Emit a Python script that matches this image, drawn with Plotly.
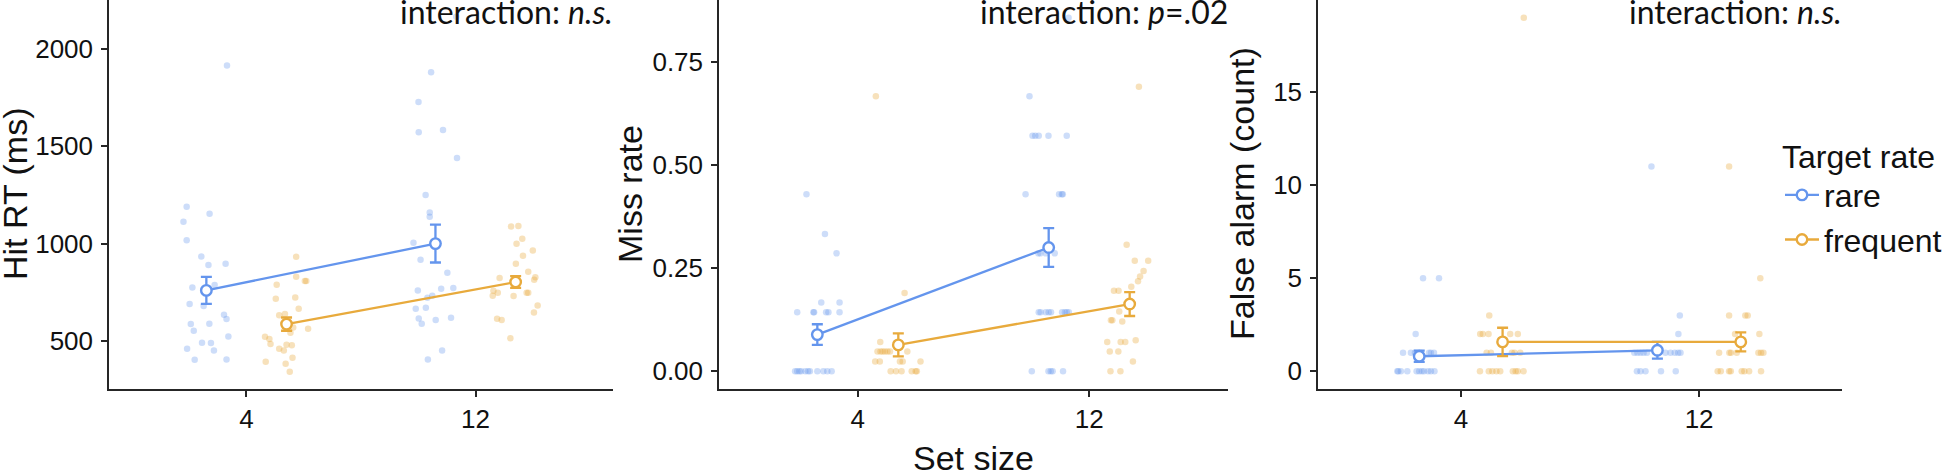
import plotly.graph_objects as go

# ---------------- data ----------------
set_sizes = ["4", "12"]
groups = ["rare", "frequent"]

# Panel 1: Hit RT (ms)  -- individual participants (value) and jitter fraction (-1..1)
hit_rare_4 = [1914, 1189, 1112, 1153, 1017, 934, 890, 897, 775, 787, 690, 680, 635, 613, 587, 589, 553, 524, 491, 490, 461, 452, 404, 406]
hit_rare_4_jit = [.90, -.86, -1.0, .14, -.86, -.22, .09, .84, -.61, .36, -.73, -.12, .77, .88, -.68, .13, -.55, .96, -.19, .20, -.84, .33, -.51, .88]
hit_freq_4 = [933, 789, 808, 808, 830, 717, 724, 666, 632, 639, 570, 563, 543, 522, 510, 485, 461, 452, 481, 478, 414, 394, 384, 343]
hit_freq_4_jit = [.42, -.43, .86, .80, .42, -.47, .38, .53, -.32, -.07, .29, .94, .17, -.94, -.75, -.70, -.32, -.12, 0, .23, .26, -.91, -.04, .14]
hit_rare_12 = [2164, 1879, 1726, 1571, 1583, 1439, 1249, 1159, 1138, 1005, 917, 851, 760, 769, 772, 733, 722, 666, 671, 616, 589, 608, 620, 452, 406]
hit_rare_12_jit = [.91, -.19, -.74, -.73, .33, .94, -.43, -.25, -.25, -.96, -.65, .52, -.77, .25, .78, -.14, -.35, -.86, -.42, -.73, -.60, .01, .68, .29, -.33]
hit_freq_12 = [1088, 1090, 1025, 999, 965, 938, 897, 856, 823, 828, 815, 758, 748, 733, 731, 748, 748, 683, 647, 615, 608, 514]
hit_freq_12_jit = [-.20, .12, .29, .04, .75, .32, .01, .55, -.70, .86, .81, -.97, -.78, -1.0, -.09, .48, .55, .96, .80, -.81, -.61, -.23]
hit_rare_mean = [760, 1000]
hit_rare_se = [69, 97]
hit_freq_mean = [587, 803]
hit_freq_se = [34, 30]

# Panel 2: Miss rate
miss_rare_4 = [0.429, 0.333, 0.286, 0.167, 0.167, 0.143, 0.143, 0.143, 0.143, 0.143, 0.143,
               0, 0, 0, 0, 0, 0, 0, 0, 0, 0, 0]
miss_rare_4_jit = [-.47, .33, .83, .17, .96, -.87, -.17, -.14, .38, .48, .96,
                   -.96, -.87, -.78, -.70, -.52, -.40, -.32, 0, .26, .43, .62]
miss_freq_4 = [0.667, 0.19, 0.071, 0.048, 0.048, 0.048, 0.048, 0.048, 0.048, 0.048,
               0.024, 0.024, 0.024, 0.024, 0.024, 0, 0, 0, 0, 0, 0]
miss_freq_4_jit = [-.97, .27, -.78, -.90, -.77, -.68, -.58, -.47, -.36, .39,
                   -1.0, -.80, .07, .19, .96, -.33, -.10, .14, .58, .75, .80]
miss_rare_12 = [0.857, 0.667, 0.571, 0.571, 0.571, 0.571, 0.571, 0.429, 0.429, 0.429, 0.429,
                0.286, 0.286, 0.286, 0.286, 0.143, 0.143, 0.143, 0.143, 0.143, 0.143, 0.143, 0.143, 0.143,
                0, 0, 0, 0, 0]
miss_rare_12_jit = [.86, -.83, -.70, -.58, -.43, -.01, .78, -1.0, .45, .57, .61,
                    -.45, -.36, -.13, .26, -.43, -.35, -.13, 0, .10, .58, .70, .78, .87,
                    -.73, -.01, .09, .17, .62]
miss_freq_12 = [0.690, 0.307, 0.268, 0.268, 0.243, 0.230, 0.218, 0.205, 0.195, 0.195, 0.145,
                0.124, 0.124, 0.121, 0.071, 0.071, 0.071, 0.075, 0.048, 0.048, 0.024, 0, 0]
miss_freq_12_jit = [.40, -.13, .22, .80, .60, .45, .36, .07, -.68, -.48, -.45,
                    -.81, -.75, -.32, -.97, -.39, -.19, .26, -.86, -.49, .14, -.83, -.40]
miss_rare_mean = [0.089, 0.300]
miss_rare_se = [0.025, 0.047]
miss_freq_mean = [0.064, 0.163]
miss_freq_se = [0.028, 0.029]

# Panel 3: False alarm (count)
fa_rare_4 = [5, 5, 2, 1, 1, 1, 1, 1, 1, 1, 1, 0, 0, 0, 0, 0, 0, 0, 0, 0, 0, 0]
fa_rare_4_jit = [.16, .83, -.15, -.68, -.35, -.18, -.05, .07, .41, .49, .62,
                 -.92, -.88, -.77, -.50, -.11, 0, .11, .20, .37, .49, .64]
fa_freq_4 = [19, 3, 2, 2, 2, 2, 2, 1, 1, 1, 1, 1, 0, 0, 0, 0, 0, 0, 0, 0, 0]
fa_freq_4_jit = [.89, -.56, -.94, -.83, -.59, .32, .64, -.67, -.49, .39, .50, .74,
                 -.95, -.58, -.43, -.26, -.10, .43, .55, .64, .88]
fa_rare_12 = [11, 3, 2, 1, 1, 1, 1, 1, 1, 1, 1, 1, 1, 0, 0, 0, 0, 0]
fa_rare_12_jit = [-.25, .94, .88, -.97, -.84, -.71, -.58, -.44, .34, .55, .73, .87, .97,
                  -.86, -.71, -.50, .15, .77]
fa_freq_12 = [11, 5, 3, 3, 3, 2, 2, 1, 1, 1, 1, 1, 1, 1, 0, 0, 0, 0, 0, 0, 0, 0]
fa_freq_12_jit = [-.49, .82, -.49, .19, .29, -.24, .78, -.91, -.48, -.41, -.17, .74, .85, .95,
                  -.97, -.84, -.49, -.42, .04, .15, .35, .85]
fa_rare_mean = [0.81, 1.13]
fa_rare_se = [0.30, 0.45]
fa_freq_mean = [1.58, 1.58]
fa_freq_se = [0.76, 0.51]

y_titles = ["Hit RT (ms)", "Miss rate", "False alarm (count)"]
interaction_labels = ["interaction: <i>n.s.</i>", "interaction: <i>p</i>=.02", "interaction: <i>n.s.</i>"]
x_title = "Set size"
legend_title = "Target rate"

# ---------------- style ----------------
COLORS = {"rare": "#6495ED", "frequent": "#E8AA3C"}
FILL = {"rare": "rgba(100,149,237,0.32)", "frequent": "rgba(232,170,60,0.35)"}
DODGE = 0.175
JITTER = 0.1
W, H = 1960, 472
FONT = "Liberation Sans, Arial, sans-serif"
ANNOT_FONT = "Lato, Liberation Sans, sans-serif"
AXIS_COL = "#262626"
TXT_COL = "#111111"

panels = [
    dict(raw={"rare": [(hit_rare_4, hit_rare_4_jit), (hit_rare_12, hit_rare_12_jit)],
              "frequent": [(hit_freq_4, hit_freq_4_jit), (hit_freq_12, hit_freq_12_jit)]},
         mean={"rare": (hit_rare_mean, hit_rare_se), "frequent": (hit_freq_mean, hit_freq_se)},
         yrange=[254, 2250], tickvals=[500, 1000, 1500, 2000], tickformat="d",
         xpx=(109, 613)),
    dict(raw={"rare": [(miss_rare_4, miss_rare_4_jit), (miss_rare_12, miss_rare_12_jit)],
              "frequent": [(miss_freq_4, miss_freq_4_jit), (miss_freq_12, miss_freq_12_jit)]},
         mean={"rare": (miss_rare_mean, miss_rare_se), "frequent": (miss_freq_mean, miss_freq_se)},
         yrange=[-0.0429, 0.9], tickvals=[0, 0.25, 0.5, 0.75], tickformat=".2f",
         xpx=(719, 1228)),
    dict(raw={"rare": [(fa_rare_4, fa_rare_4_jit), (fa_rare_12, fa_rare_12_jit)],
              "frequent": [(fa_freq_4, fa_freq_4_jit), (fa_freq_12, fa_freq_12_jit)]},
         mean={"rare": (fa_rare_mean, fa_rare_se), "frequent": (fa_freq_mean, fa_freq_se)},
         yrange=[-0.95, 19.95], tickvals=[0, 5, 10, 15], tickformat="d",
         xpx=(1318, 1842)),
]

Y_BOTTOM_PX = 389
fig = go.Figure()
layout = dict(width=W, height=H, margin=dict(l=0, r=0, t=0, b=0),
              paper_bgcolor="white", plot_bgcolor="white", showlegend=True)

annotations = []
for i, p in enumerate(panels):
    sfx = "" if i == 0 else str(i + 1)
    xref, yref = "x" + sfx, "y" + sfx
    # jittered raw points
    for g in groups:
        off = -DODGE if g == "rare" else DODGE
        xs, ys = [], []
        for k, (vals, jit) in enumerate(p["raw"][g]):
            xs += [k + 1 + off + j * JITTER for j in jit]
            ys += list(vals)
        fig.add_trace(go.Scatter(x=xs, y=ys, mode="markers", xaxis=xref, yaxis=yref,
                                 marker=dict(size=6.5, color=FILL[g], line=dict(width=0)),
                                 showlegend=False, hoverinfo="skip"))
    # means with error bars
    for g in groups:
        off = -DODGE if g == "rare" else DODGE
        m, se = p["mean"][g]
        fig.add_trace(go.Scatter(
            x=[k + 1 + off for k in range(len(set_sizes))], y=m, mode="lines+markers",
            xaxis=xref, yaxis=yref, name=g, legendgroup=g, showlegend=(i == 0),
            line=dict(color=COLORS[g], width=2.3),
            marker=dict(symbol="circle", size=10.5, color="white", line=dict(color=COLORS[g], width=2.4)),
            error_y=dict(type="data", array=se, visible=True, color=COLORS[g], thickness=2.3, width=5.5)))
    x0, x1 = p["xpx"]
    layout["xaxis" + sfx] = dict(
        domain=[x0 / W, x1 / W], anchor=yref, range=[0.4, 2.6],
        tickvals=[1, 2], ticktext=set_sizes, showline=True, linecolor=AXIS_COL, linewidth=1.5,
        ticks="outside", ticklen=6, tickwidth=1.5, tickcolor=AXIS_COL, showgrid=False,
        zeroline=False, tickfont=dict(family=FONT, size=26, color=TXT_COL),
        ticklabelstandoff=0, fixedrange=True)
    layout["yaxis" + sfx] = dict(
        domain=[(H - Y_BOTTOM_PX) / H, 1], anchor=xref, range=p["yrange"],
        tickvals=p["tickvals"], tickformat=p["tickformat"], showline=True, linecolor=AXIS_COL,
        linewidth=1.5, ticks="outside", ticklen=6, tickwidth=1.5, tickcolor=AXIS_COL,
        showgrid=False, zeroline=False, tickfont=dict(family=FONT, size=26, color=TXT_COL),
        ticklabelstandoff=3, fixedrange=True)
    # interaction label, right aligned at top of panel
    annotations.append(dict(text=interaction_labels[i], xref="paper", yref="paper",
                            x=(x1 + 2) / W, y=1 - 33 / H, xanchor="right", yanchor="bottom",
                            showarrow=False, font=dict(family=ANNOT_FONT, size=32, color=TXT_COL)))

# y axis titles
ytitle_x = [15, 630, 1242]
for i, t in enumerate(y_titles):
    annotations.append(dict(text=t, xref="paper", yref="paper", x=ytitle_x[i] / W, y=1 - 194 / H,
                            xanchor="center", yanchor="middle", textangle=-90, showarrow=False,
                            font=dict(family=FONT, size=34, color=TXT_COL)))
# x axis title (centered under middle panel)
annotations.append(dict(text=x_title, xref="paper", yref="paper", x=973.5 / W, y=1 - 458 / H,
                        xanchor="center", yanchor="middle", showarrow=False,
                        font=dict(family=FONT, size=34, color=TXT_COL)))

layout["annotations"] = annotations
layout["legend"] = dict(x=1780 / W, xanchor="left", y=1 - 126 / H, yanchor="top",
                        title=dict(text=legend_title, font=dict(family=FONT, size=32, color=TXT_COL)),
                        font=dict(family=FONT, size=32, color=TXT_COL),
                        bgcolor="rgba(0,0,0,0)", itemwidth=34, tracegroupgap=0)
fig.update_layout(**layout)
fig.write_html("out.html", config={"displayModeBar": False},
               post_script="document.body.style.margin='0px';document.body.style.overflow='hidden';")
